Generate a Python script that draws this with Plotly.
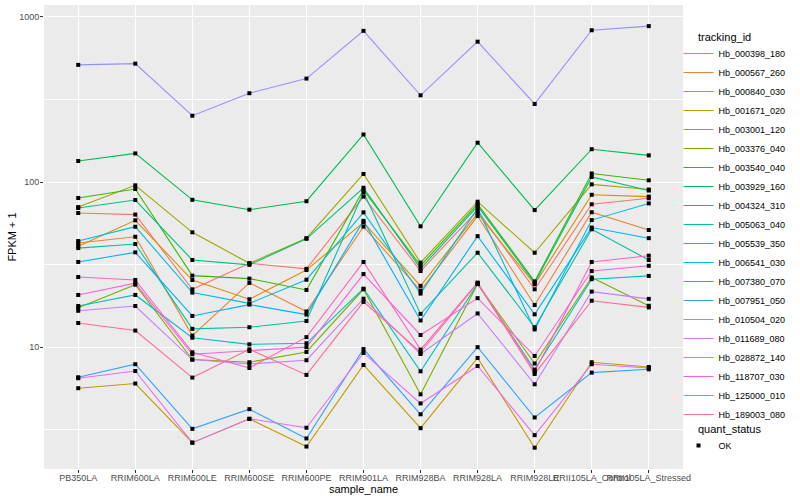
import plotly.graph_objects as go

samples = ["PB350LA", "RRIM600LA", "RRIM600LE", "RRIM600SE", "RRIM600PE", "RRIM901LA",
           "RRIM928BA", "RRIM928LA", "RRIM928LE", "RRII105LA_Control", "RRII105LA_Stressed"]

hb_000398_180 = [64.9, 63.5, 22.4, 32.2, 29.8, 81.6, 28.9, 67.0, 22.4, 73.3, 79.7]
hb_000567_260 = [42.7, 46.6, 11.75, 24.5, 16.45, 53.7, 22.0, 62.2, 18.0, 65.6, 51.2]
hb_000840_030 = [40.9, 58.6, 25.5, 19.5, 29.3, 56.9, 23.5, 64.6, 24.0, 83.7, 81.6]
hb_001671_020 = [5.64, 6.02, 2.64, 3.68, 2.50, 7.80, 3.23, 8.60, 2.46, 8.10, 7.58]
hb_003001_120 = [70.5, 95.5, 49.6, 32.2, 45.7, 111.9, 32.5, 76.0, 37.3, 96.8, 90.0]
hb_003376_040 = [17.3, 23.9, 8.41, 8.10, 9.35, 22.4, 5.18, 24.1, 7.96, 26.4, 17.8]
hb_003540_040 = [80.0, 90.7, 27.1, 26.0, 22.2, 89.4, 31.2, 73.5, 25.0, 112.6, 102.4]
hb_003929_160 = [134, 149, 78.0, 68.0, 76.5, 194, 53.9, 173, 67.6, 158, 145]
hb_004324_310 = [69.6, 77.8, 33.7, 31.5, 45.3, 92.3, 29.9, 71.5, 24.5, 107.3, 88.8]
hb_005063_040 = [39.8, 42.1, 12.9, 13.2, 14.4, 86.6, 15.9, 37.3, 13.2, 51.7, 33.7]
hb_005539_350 = [17.75, 20.7, 11.4, 10.4, 10.55, 22.6, 7.14, 24.1, 7.31, 25.8, 27.0]
hb_006541_030 = [43.9, 53.6, 21.4, 18.4, 25.6, 65.5, 21.1, 69.3, 12.8, 58.8, 74.2]
hb_007380_070 = [32.8, 37.5, 15.45, 18.1, 15.75, 58.2, 14.5, 47.0, 15.8, 53.0, 45.7]
hb_007951_050 = [6.57, 7.88, 3.20, 4.21, 2.80, 9.74, 3.92, 10.0, 3.75, 7.01, 7.34]
hb_010504_020 = [512, 521, 252, 345, 423, 823, 335, 708, 297, 830, 879]
hb_011689_080 = [16.6, 17.75, 8.41, 7.91, 8.33, 19.65, 9.09, 16.0, 5.96, 21.7, 19.6]
hb_028872_140 = [6.48, 7.17, 2.64, 3.68, 3.25, 9.22, 4.56, 7.69, 2.93, 7.88, 7.48]
hb_118707_030 = [20.7, 24.4, 9.06, 9.47, 10.0, 27.7, 11.85, 19.8, 8.84, 28.9, 31.1]
hb_125000_010 = [26.6, 25.5, 9.31, 7.48, 11.5, 32.8, 9.66, 24.6, 7.11, 32.8, 35.8]
hb_189003_080 = [14.0, 12.6, 6.54, 9.70, 6.79, 18.8, 9.31, 24.4, 6.88, 19.1, 17.4]

tracking_ids = ["Hb_000398_180", "Hb_000567_260", "Hb_000840_030", "Hb_001671_020",
                "Hb_003001_120", "Hb_003376_040", "Hb_003540_040", "Hb_003929_160",
                "Hb_004324_310", "Hb_005063_040", "Hb_005539_350", "Hb_006541_030",
                "Hb_007380_070", "Hb_007951_050", "Hb_010504_020", "Hb_011689_080",
                "Hb_028872_140", "Hb_118707_030", "Hb_125000_010", "Hb_189003_080"]

series_values = [hb_000398_180, hb_000567_260, hb_000840_030, hb_001671_020,
                 hb_003001_120, hb_003376_040, hb_003540_040, hb_003929_160,
                 hb_004324_310, hb_005063_040, hb_005539_350, hb_006541_030,
                 hb_007380_070, hb_007951_050, hb_010504_020, hb_011689_080,
                 hb_028872_140, hb_118707_030, hb_125000_010, hb_189003_080]

colors = ["#F8766D", "#EA8331", "#D89000", "#C09B00", "#A3A500", "#7CAE00", "#39B600",
          "#00BB4E", "#00BF7D", "#00C1A3", "#00BFC4", "#00BAE0", "#00B0F6", "#35A2FF",
          "#9590FF", "#C77CFF", "#E76BF3", "#FA62DB", "#FF62BC", "#FF6C91"]

fig = go.Figure()
for name, vals, col in zip(tracking_ids, series_values, colors):
    fig.add_trace(go.Scatter(x=samples, y=vals, mode="lines", name=name,
                             line=dict(color=col, width=1.1), legend="legend"))

all_x = [s for vals in series_values for s in samples]
all_y = [v for vals in series_values for v in vals]
fig.add_trace(go.Scatter(x=all_x, y=all_y, mode="markers", name="OK",
                         marker=dict(symbol="square", size=4, color="black"),
                         legend="legend2"))

fig.update_layout(
    width=800, height=500,
    margin=dict(l=44, r=116.5, t=5, b=31, autoexpand=False),
    plot_bgcolor="#EBEBEB", paper_bgcolor="white",
    font=dict(family="Liberation Sans, Arial, sans-serif", size=9, color="#4D4D4D"),
    showlegend=True,
    xaxis=dict(type="category", categoryorder="array", categoryarray=samples,
               range=[-0.6, 10.6], showgrid=True, gridcolor="white", gridwidth=1.1,
               ticks="outside", ticklen=3, tickcolor="#333333", tickwidth=1, tickangle=0,
               ticklabelstandoff=-3,
               tickfont=dict(size=9, color="#4D4D4D"), zeroline=False, showline=False,
               automargin=False,
               title=dict(text="sample_name", font=dict(size=11, color="black"), standoff=2)),
    yaxis=dict(type="log", range=[0.262, 3.072], tickmode="array",
               tickvals=[10, 100, 1000], ticktext=["10", "100", "1000"],
               showgrid=True, gridcolor="white", gridwidth=1.1,
               minor=dict(tickmode="array", tickvals=[3.1623, 31.623, 316.23], showgrid=True,
                          gridcolor="white", gridwidth=0.5, ticks=""),
               ticks="outside", ticklen=3, tickcolor="#333333", tickwidth=1,
               ticklabelstandoff=-1,
               tickfont=dict(size=9, color="#4D4D4D"), zeroline=False, showline=False,
               automargin=False,
               title=dict(text="FPKM + 1", font=dict(size=11, color="black"), standoff=0)),
    legend=dict(x=0.993, xanchor="left", y=0.9267, yanchor="top",
                font=dict(size=9, color="black"), bgcolor="rgba(0,0,0,0)",
                tracegroupgap=0, itemwidth=30),
    legend2=dict(x=0.993, xanchor="left", y=0.0819, yanchor="top",
                 font=dict(size=9, color="black"), bgcolor="rgba(0,0,0,0)", itemwidth=30),
    annotations=[
        dict(text="tracking_id", xref="paper", yref="paper", x=1.0211, y=0.9310,
             xanchor="left", yanchor="middle", showarrow=False,
             font=dict(size=11, color="black")),
        dict(text="quant_status", xref="paper", yref="paper", x=1.0211, y=0.0862,
             xanchor="left", yanchor="middle", showarrow=False,
             font=dict(size=11, color="black")),
    ],
)

fig.write_html("out.html", config={"displayModeBar": False},
               post_script="document.body.style.margin='0px';")
